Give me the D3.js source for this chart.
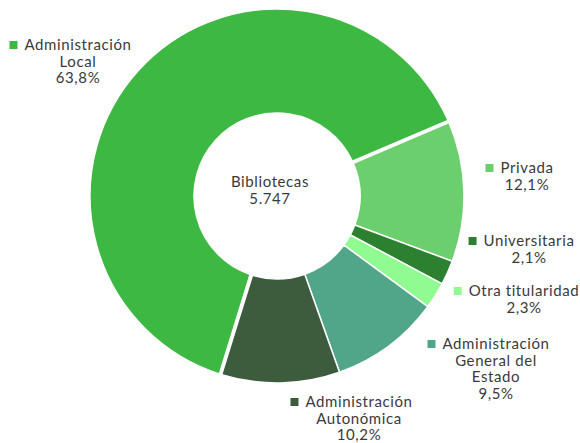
<!DOCTYPE html>
<html>
<head>
<meta charset="utf-8">
<script src="https://cdn.jsdelivr.net/npm/d3@7"></script>
<style>
  html, body { margin: 0; padding: 0; background: #fff; }
  svg { display: block; }
  text { font-family: Lato, "Open Sans", sans-serif; fill: #3a3a3a; letter-spacing: 0.6px; }
</style>
</head>
<body>
<div id="chart"></div>
<script>
// ---- data ----
const categories = ["Administración Local", "Privada", "Universitaria", "Otra titularidad", "Administración General del Estado", "Administración Autonómica"];
const labelLines = [["Administración", "Local"], ["Privada"], ["Universitaria"], ["Otra titularidad"], ["Administración", "General del", "Estado"], ["Administración", "Autonómica"]];
const shares = [63.8, 12.1, 2.1, 2.3, 9.5, 10.2];
const centerTitle = "Bibliotecas";
const centerValue = "5.747";

// ---- styles / layout ----
const colors = ["#3db843", "#6bcf6e", "#2b812f", "#90fb90", "#51a68a", "#3d5b3d"];
const W = 580, H = 443;
const cx = 277, cy = 196, outerR = 187, innerR = 83;
const startDeg = 197.2;
// label anchors: [text centre x, first baseline y]
const labelAnchor = [[78, 50], [527, 173], [529, 246], [524, 296], [496, 349], [359, 407]];
const lineH = 16.6;
const fmt = v => d3.format(".1f")(v).replace(".", ",") + "%";

const svg = d3.select("#chart").append("svg").attr("width", W).attr("height", H);
const g = svg.append("g").attr("transform", `translate(${cx},${cy})`);

const pie = d3.pie().sort(null).value(d => d)
  .startAngle(startDeg * Math.PI / 180)
  .endAngle(startDeg * Math.PI / 180 + 2 * Math.PI);
const arcs = pie(shares);
arcs[0].padAngle = 0.024;
const arc = d3.arc().innerRadius(innerR).outerRadius(outerR);

g.selectAll("path.slice").data(arcs).join("path")
  .attr("class", "slice")
  .attr("d", arc)
  .attr("fill", (d, i) => colors[i])
  .attr("stroke", "#fff")
  .attr("stroke-width", 1.5)
  .attr("stroke-linejoin", "round");

// centre text
const ct = svg.append("text").attr("text-anchor", "middle").style("font-size", "15px");
ct.append("tspan").attr("x", 270).attr("y", 187).text(centerTitle);
ct.append("tspan").attr("x", 270).attr("y", 204).text(centerValue);

// labels
labelLines.forEach((lines, i) => {
  const [tx, ty] = labelAnchor[i];
  const lg = svg.append("g").attr("class", "label");
  const t = lg.append("text").attr("text-anchor", "middle").style("font-size", "15px");
  const all = lines.concat([fmt(shares[i])]);
  all.forEach((s, k) => {
    t.append("tspan").attr("x", tx).attr("y", ty + k * lineH).text(s);
  });
  const first = t.select("tspan").node();
  const w = first.getComputedTextLength();
  lg.append("rect")
    .attr("x", tx - w / 2 - 15)
    .attr("y", ty - 9)
    .attr("width", 8).attr("height", 8)
    .attr("fill", colors[i]);
});
</script>
</body>
</html>
